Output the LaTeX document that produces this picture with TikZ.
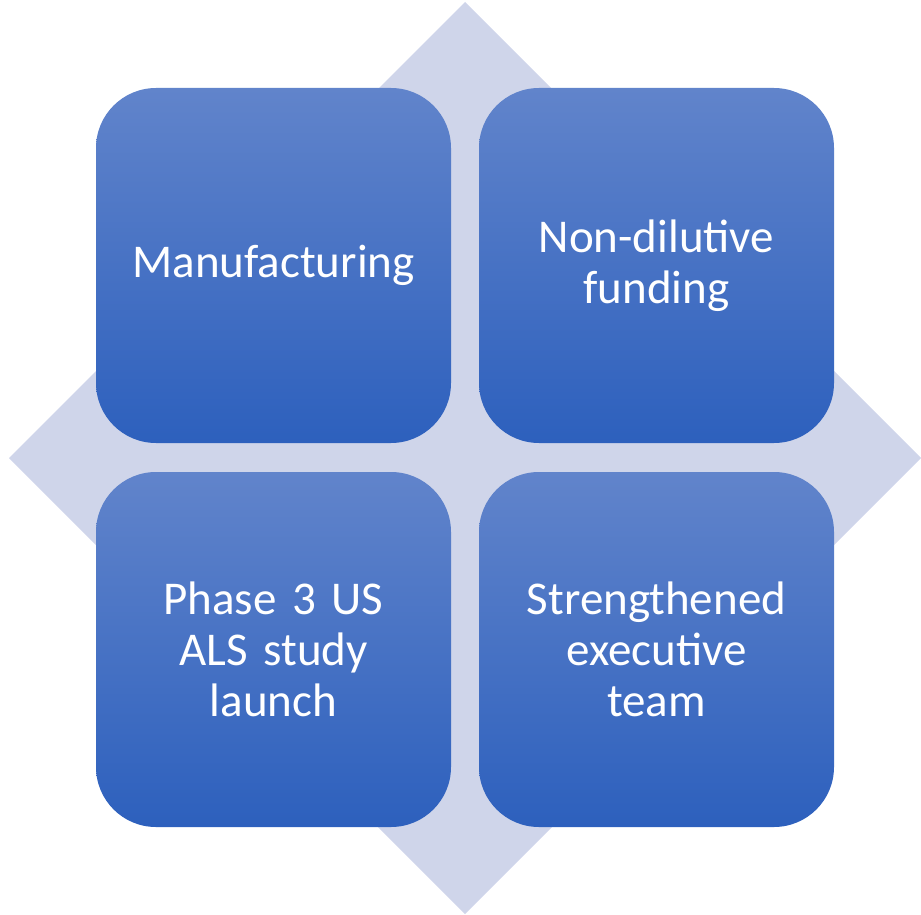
\documentclass[tikz,border=0pt]{standalone}
\usepackage{fontspec}
\setmainfont{Carlito}
\definecolor{diam}{HTML}{CFD5EA}
\definecolor{boxtop}{HTML}{6184CB}
\definecolor{boxbot}{HTML}{2D60BD}
\begin{document}
\begin{tikzpicture}[x=1pt,y=-1pt,
  quad/.style={rectangle, rounded corners=60pt, minimum width=355pt, minimum height=355pt,
    top color=boxtop, bottom color=boxbot, draw=none, text=white, align=center,
    font=\fontsize{47}{51}\selectfont, inner sep=0pt, text width=330pt}]
\useasboundingbox (0,0) rectangle (921,915);
\fill[diam] (465,2) coordinate (dt) -- (921,458) coordinate (dr) -- (465,914) coordinate (db) -- (9,458) coordinate (dl) -- cycle;
\node[quad] (tl) at (273.5,265.5) {Manufacturing};
\node[quad] (tr) at (656.5,265.5) {Non-dilutive\\funding};
\node[quad] (bl) at (273.5,649.5) {Phase 3 US\\ALS study\\launch};
\node[quad] (br) at (656.5,649.5) {Strengthened\\executive\\team};
\end{tikzpicture}
\end{document}
